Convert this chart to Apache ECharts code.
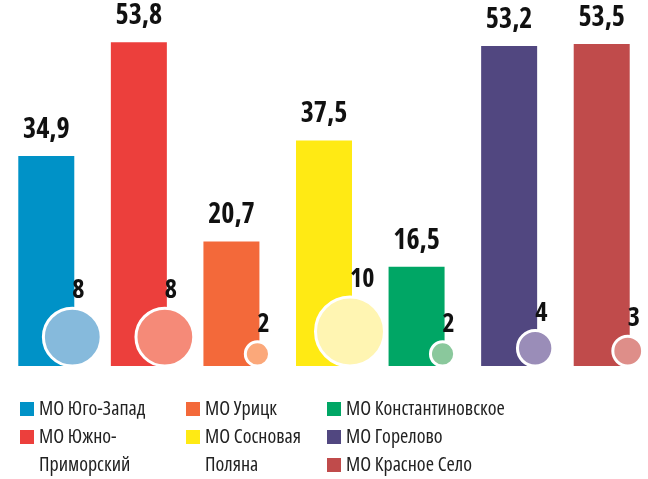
<!DOCTYPE html>
<html><head><meta charset="utf-8">
<script src="https://cdn.jsdelivr.net/npm/echarts@6/dist/echarts.min.js"></script>
<style>html,body{margin:0;padding:0;background:#fff}#c{width:648px;height:479px}</style>
</head><body><div id="c"></div>
<script>
const categories = ['МО Юго-Запад','МО Южно-Приморский','МО Урицк','МО Сосновая Поляна','МО Константиновское','МО Горелово','МО Красное Село'];
const barValues = [34.9, 53.8, 20.7, 37.5, 16.5, 53.2, 53.5];
const bubbleValues = [8, 8, 2, 10, 2, 4, 3];
const barColors = ['#0092C7','#EC3F3C','#F3693A','#FFEA14','#00A665','#514780','#C04B4B'];
const bubbleColors = ['#86BADC','#F58A78','#FBA87A','#FFF5B2','#8AC89C','#9A8DB8','#DE8E89'];
const legendColumns = [[0,1],[2,3],[4,5,6]];
const legendDisplay = {'МО Южно-Приморский':'\nМО Южно-\nПриморский','МО Сосновая Поляна':'\nМО Сосновая\nПоляна'};

const FONT = "'Open Sans','Roboto Condensed',sans-serif";
const STRETCH = 'normal condensed';
const fmt = v => Number(v).toFixed(1).replace('.', ',');

const chart = echarts.init(document.getElementById('c'), null, {renderer:'canvas'});

const barSeries = categories.map((name, i) => ({
  type: 'bar', name: name, barWidth: 56, barGap: '-100%',
  data: categories.map((_, j) => j === i ? barValues[i] : '-'),
  itemStyle: {color: barColors[i]},
  label: {show: true, position: 'top', distance: 12, formatter: p => fmt(p.value),
          fontSize: 28, fontStyle: STRETCH, fontWeight: 'bold', color: '#111', fontFamily: FONT},
  emphasis: {disabled: true},
  z: 2
}));

const bubbleSeries = {
  type: 'scatter', name: 'bubbles',
  data: bubbleValues.map((v, i) => ({value: [i, 0], itemStyle: {color: bubbleColors[i]}})),
  symbolSize: (val, p) => 13 + 5.6 * bubbleValues[p.dataIndex],
  symbolOffset: [26, '-50%'],
  itemStyle: {borderColor: '#fff', borderWidth: 3, opacity: 1},
  label: {show: true, position: 'top', align: 'left', offset: [0, 0], distance: 3,
          formatter: p => String(bubbleValues[p.dataIndex]),
          fontSize: 26, fontStyle: STRETCH, fontWeight: 'bold', color: '#111', fontFamily: FONT},
  emphasis: {disabled: true},
  z: 5
};

const legendLefts = [20, 186, 327];
const legends = legendColumns.map((idxs, c) => ({
  orient: 'vertical', left: legendLefts[c], top: 395, height: 160, padding: 0,
  itemWidth: 14, itemHeight: 14, icon: 'rect',
  itemGap: idxs.some(i => legendDisplay[categories[i]]) ? -28 : 0,
  selectedMode: false,
  data: idxs.map(i => categories[i]),
  formatter: name => legendDisplay[name] || name,
  textStyle: {fontSize: 20, lineHeight: 28, color: '#222', fontStyle: STRETCH, fontWeight: 'normal', fontFamily: FONT}
}));

chart.setOption({
  animation: false,
  backgroundColor: '#fff',
  grid: {left: -6, right: -3, top: 5, bottom: 113},
  xAxis: {type: 'category', data: categories, show: false},
  yAxis: {type: 'value', min: 0, max: 60, show: false},
  legend: legends,
  series: barSeries.concat([bubbleSeries])
});
</script></body></html>
